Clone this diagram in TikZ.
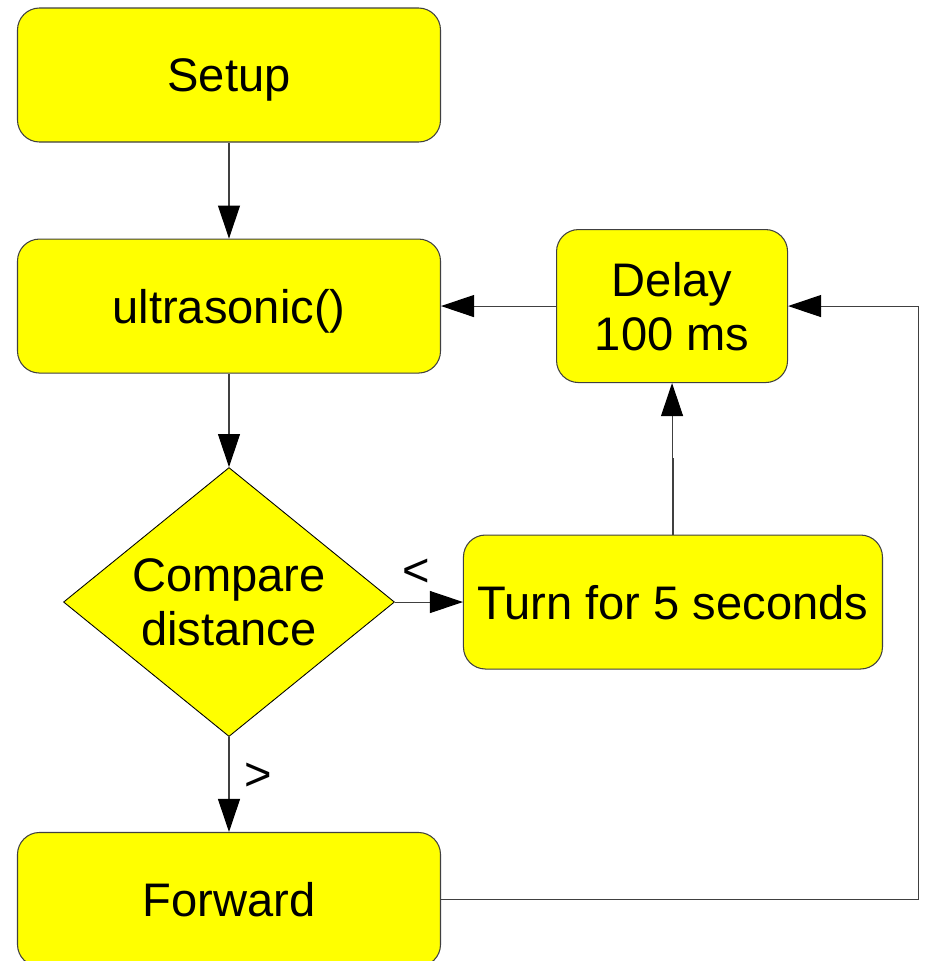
\documentclass[tikz,border=0pt]{standalone}
\usepackage{fontspec}
\setmainfont{Liberation Sans}
\usepackage{xcolor}
\definecolor{cYellow}{HTML}{FFFF00}
\definecolor{cLine}  {HTML}{404040}
\usepackage{tikz}
\usetikzlibrary{shapes.geometric, arrows.meta, positioning, calc}
\tikzset{
  blk/.style  = {rectangle, draw=cLine, rounded corners=0.44cm,
                 minimum width=#1, minimum height=2.68cm,
                 align=center, inner sep=0pt, fill=cYellow,
                 text depth=0pt,
                 font=\fontsize{26.8pt}{30.7pt}\selectfont,
                 line width=0.6pt},
  blk/.default = 8.46cm,
  dec/.style  = {diamond, draw=black, aspect=1.23, fill=cYellow,
                 minimum width=6.62cm, minimum height=5.38cm,
                 align=center, inner sep=0pt,
                 font=\fontsize{26.8pt}{30.7pt}\selectfont,
                 line width=0.5pt},
  lbl/.style  = {inner sep=0pt, font=\fontsize{26.8pt}{30.7pt}\selectfont},
  arr/.style  = {-{Triangle[length=0.66cm, width=0.44cm, color=black]},
                 draw=cLine, line width=0.6pt},
}

\begin{document}
\begin{tikzpicture}
  \useasboundingbox (0,0) rectangle (18.5,-19.22);

  %% Left column
  \node[blk] (setup) at (4.58,-1.50) {Setup};
  \node[blk, below=1.92cm of setup] (us)   {ultrasonic()};
  \node[dec, below=1.87cm of us]    (cmp)  {Compare\\distance};
  \node[blk, below=1.90cm of cmp]   (fwd)  {Forward};

  %% Right column
  \node[blk=8.38cm, right=1.36cm of cmp] (turn)
        {Turn for 5 seconds};
  \node[blk=4.62cm, minimum height=3.06cm,
        right=2.30cm of us] (delay)
        {Delay\\100 ms};
  \coordinate[right=9.54cm of fwd.east] (loop);

  %% Arrows
  \draw[arr] (setup)--(us);
  \draw[arr] (us)   --(cmp);
  \draw[arr] (cmp.east) -- node[lbl, pos=0.31, above=0.3cm] {<} (turn.west);
  \draw[arr] (cmp.south) -- node[lbl, pos=0.42, right=0.3cm] {>} (fwd.north);
  \draw[arr] (turn.north) |- ($(turn.north)!0.5!(delay.south)$) -| (delay.south);
  \draw[arr] (delay.west) -- (us.east);
  \draw[arr] (fwd.east) -- (loop) |- (delay.east);

\end{tikzpicture}
\end{document}
